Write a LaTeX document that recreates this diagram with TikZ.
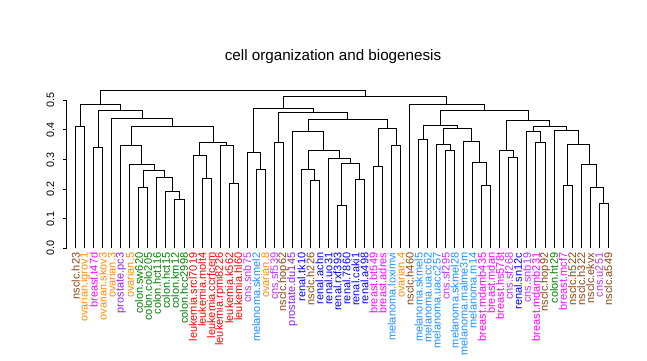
\documentclass[tikz,border=0pt]{standalone}
\usepackage{fontspec}
\setmainfont{Liberation Sans}
\usetikzlibrary{calc}
\definecolor{cNs}{HTML}{8B4513}
\definecolor{cOv}{HTML}{FF8C00}
\definecolor{cBr}{HTML}{FF00FF}
\definecolor{cPr}{HTML}{9020F0}
\definecolor{cCo}{HTML}{008000}
\definecolor{cLe}{HTML}{FF0000}
\definecolor{cCn}{HTML}{C030FF}
\definecolor{cMe}{HTML}{1E90FF}
\definecolor{cRe}{HTML}{0000FF}
\newcommand\dmerge[4]{%
  \coordinate (tmpm) at ($(#2)!0.5!(#3)$);
  \coordinate (tmpy) at (0,#4);
  \coordinate (#1) at (tmpm |- tmpy);
  \draw[treeline] (#2) |- (#1) -| (#3);}
\begin{document}
\begin{tikzpicture}[x=1pt,y=-1pt,
  treeline/.style={line width=1pt},
  leaflab/.style={rotate=90,anchor=east,inner sep=0pt,font=\fontsize{11}{13}\selectfont},
  axlab/.style={rotate=90,inner sep=0pt,font=\fontsize{10.8}{13}\selectfont},
  titlelab/.style={anchor=base,inner sep=0pt,font=\fontsize{15.2}{18}\selectfont}]
\useasboundingbox[fill=white] (0,0) rectangle (647,360);
\node[titlelab] (title) at (333,60.7) {cell organization and biogenesis};
% axis
\draw[line width=1pt] (66.7,100.3) coordinate (axtop) -- (66.7,248.3) coordinate (axbot);
\foreach \v in {0,...,5} {
  \draw[line width=1pt] (66.7,{248.3-29.6*\v}) -- ++(-4,0);
  \node[axlab] (ax\v) at (50.5,{248.3-29.6*\v}) {0.\v};
}
% leaves
\foreach \i/\lab/\col in {
 1/nsclc.h23/cNs, 2/ovarian.igrov1/cOv, 3/breast.t47d/cBr, 4/ovarian.skov3/cOv,
 5/ovarian.3/cOv, 6/prostate.pc3/cPr, 7/ovarian.5/cOv, 8/colon.sw620/cCo,
 9/colon.colo205/cCo, 10/colon.hct116/cCo, 11/colon.hct15/cCo, 12/colon.km12/cCo,
 13/colon.hcc2998/cCo, 14/leukemia.srcl7019/cLe, 15/leukemia.molt4/cLe, 16/leukemia.ccrfcem/cLe,
 17/leukemia.rpmi8226/cLe, 18/leukemia.k562/cLe, 19/leukemia.hl60/cLe, 20/cns.snb75/cCn,
 21/melanoma.skmel2/cMe, 22/ovarian.8/cOv, 23/cns.sf539/cCn, 24/nsclc.hop62/cNs,
 25/prostate.du145/cPr, 26/renal.tk10/cRe, 27/nsclc.h226/cNs, 28/renal.achn/cRe,
 29/renal.uo31/cRe, 30/renal.rxf393/cRe, 31/renal.7860/cRe, 32/renal.caki1/cRe,
 33/renal.a498/cRe, 34/breast.bt549/cBr, 35/breast.adres/cBr, 36/melanoma.loximvi/cMe,
 37/ovarian.4/cOv, 38/nsclc.h460/cNs, 39/melanoma.skmel5/cMe, 40/melanoma.uacc62/cMe,
 41/melanoma.uacc257/cMe, 42/cns.sf295/cCn, 43/melanoma.skmel28/cMe, 44/melanoma.malme3m/cMe,
 45/melanoma.m14/cMe, 46/breast.mdamb435/cBr, 47/breast.mdan/cBr, 48/breast.hs578t/cBr,
 49/cns.sf268/cCn, 50/renal.sn12c/cRe, 51/cns.snb19/cCn, 52/breast.mdamb231/cBr,
 53/nsclc.hop92/cNs, 54/colon.ht29/cCo, 55/breast.mcf7/cBr, 56/nsclc.h522/cNs,
 57/nsclc.h322/cNs, 58/nsclc.ekvx/cNs, 59/cns.u251/cCn, 60/nsclc.a549/cNs} {
  \coordinate (L\i) at ({75.7+9.025*(\i-1)},248.3);
  \node[leaflab,text=\col] (t\i) at ({75.7+9.025*(\i-1)},252.5) {\lab};
}
% left part
\dmerge{A}{L1}{L2}{126.33}
\dmerge{B}{L3}{L4}{147.33}
\dmerge{C1}{L12}{L13}{199.33}
\dmerge{C2}{L11}{C1}{191.33}
\dmerge{C3}{L10}{C2}{177.33}
\dmerge{C4}{L8}{L9}{187.33}
\dmerge{C5}{C4}{C3}{170.33}
\dmerge{C6}{L7}{C5}{164.33}
\dmerge{C7}{L6}{C6}{145.33}
\dmerge{D1}{L15}{L16}{178.33}
\dmerge{D2}{L14}{D1}{155.33}
\dmerge{D3}{L18}{L19}{183.33}
\dmerge{D4}{L17}{D3}{145.33}
\dmerge{D5}{D2}{D4}{142.33}
\dmerge{E}{C7}{D5}{126.33}
\dmerge{F}{L5}{E}{118.33}
\dmerge{G}{B}{F}{110.33}
\dmerge{H}{A}{G}{104.33}
% middle part
\dmerge{I1}{L21}{L22}{169.33}
\dmerge{I2}{L20}{I1}{152.33}
\dmerge{J1}{L23}{L24}{142.33}
\dmerge{K1}{L27}{L28}{180.33}
\dmerge{K2}{L26}{K1}{169.33}
\dmerge{Lc1}{L30}{L31}{205.33}
\dmerge{Lc2}{L32}{L33}{179.33}
\dmerge{Lc3}{Lc1}{Lc2}{163.33}
\dmerge{Lc4}{L29}{Lc3}{158.33}
\dmerge{K3}{K2}{Lc4}{150.33}
\dmerge{K4}{L25}{K3}{131.33}
\dmerge{M1}{L34}{L35}{166.33}
\dmerge{M2}{L36}{L37}{145.33}
\dmerge{M3}{M1}{M2}{128.33}
\dmerge{N}{K4}{M3}{119.33}
\dmerge{O}{J1}{N}{112.33}
\dmerge{P}{I2}{O}{108.33}
% right part
\dmerge{Q1}{L39}{L40}{139.33}
\dmerge{Q2}{L42}{L43}{150.33}
\dmerge{Q3}{L41}{Q2}{144.33}
\dmerge{Q4}{L46}{L47}{185.33}
\dmerge{Q5}{L45}{Q4}{162.33}
\dmerge{Q6}{L44}{Q5}{141.33}
\dmerge{Q7}{Q3}{Q6}{128.33}
\dmerge{Q8}{Q1}{Q7}{125.33}
\dmerge{R1}{L49}{L50}{157.33}
\dmerge{R2}{L48}{R1}{150.33}
\dmerge{S1}{L52}{L53}{142.33}
\dmerge{S2}{L51}{S1}{131.33}
\dmerge{T1}{L55}{L56}{185.33}
\dmerge{T2}{L59}{L60}{203.33}
\dmerge{T3}{L58}{T2}{187.33}
\dmerge{T4}{L57}{T3}{164.33}
\dmerge{T5}{T1}{T4}{144.33}
\dmerge{T6}{L54}{T5}{130.33}
\dmerge{S3}{S2}{T6}{126.33}
\dmerge{R3}{R2}{S3}{120.33}
\dmerge{U}{Q8}{R3}{110.33}
\dmerge{V}{L38}{U}{104.33}
\dmerge{W}{P}{V}{96.33}
\dmerge{Root}{H}{W}{90.33}
\end{tikzpicture}
\end{document}
